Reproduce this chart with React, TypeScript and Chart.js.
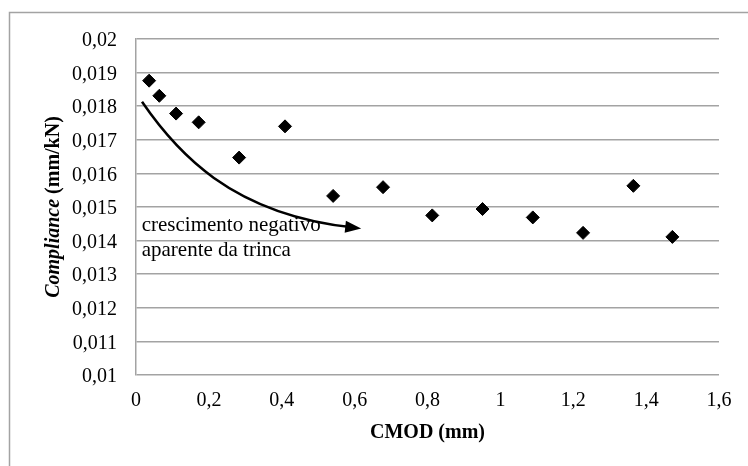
import { useEffect, useRef } from "react";
import { Chart, registerables } from "chart.js";

Chart.register(...registerables);

// ---- data ----
const cmod = [0.036, 0.064, 0.11, 0.172, 0.283, 0.409, 0.541, 0.678, 0.813, 0.951, 1.089, 1.227, 1.365, 1.472];
const compliance = [0.01876, 0.01831, 0.01778, 0.01752, 0.01647, 0.0174, 0.01533, 0.01559, 0.01475, 0.01494, 0.01469, 0.01423, 0.01563, 0.01411];

const xMin = 0;
const xMax = 1.6;
const xStep = 0.2;
const yMin = 0.01;
const yMax = 0.02;
const yStep = 0.001;

const xTitle = "CMOD (mm)";
const yTitleItalic = "Compliance";
const yTitleRest = " (mm/kN)";

// annotation (data coordinates)
const arrowPath = [
  [0.0165, 0.01813],
  [0.107, 0.0167],
  [0.258, 0.01477],
  [0.618, 0.01436],
];
const noteLines = ["crescimento negativo", "aparente da trinca"];
const noteX = 0.0156;
const noteY = [0.01444, 0.0137];

const FONT = '"Liberation Serif", "Times New Roman", serif';
const GRID = "#a3a3a3";

const fmt = (v: number) => String(parseFloat(Number(v).toFixed(3))).replace(".", ",");

const decor = {
  id: "decor",
  beforeDraw(chart: any) {
    const ctx = chart.ctx;
    ctx.save();
    ctx.fillStyle = "#ffffff";
    ctx.fillRect(0, 0, chart.width, chart.height);
    ctx.strokeStyle = GRID;
    ctx.lineWidth = 1.5;
    ctx.strokeRect(9.5, 12.5, 900, 600);
    ctx.restore();
  },
  afterDraw(chart: any) {
    const ctx = chart.ctx;
    const xs = chart.scales.x;
    const ys = chart.scales.y;
    const area = chart.chartArea;
    ctx.save();
    ctx.fillStyle = "#000";

    // x title
    ctx.font = `bold 20px ${FONT}`;
    ctx.textAlign = "center";
    ctx.textBaseline = "middle";
    ctx.fillText(xTitle, (area.left + area.right) / 2, 433);

    // y title (mixed italic / bold), rotated
    ctx.save();
    ctx.translate(54, (area.top + area.bottom) / 2);
    ctx.rotate(-Math.PI / 2);
    ctx.textAlign = "left";
    ctx.textBaseline = "middle";
    ctx.font = `italic bold 20px ${FONT}`;
    const w1 = ctx.measureText(yTitleItalic).width;
    ctx.font = `bold 20px ${FONT}`;
    const w2 = ctx.measureText(yTitleRest).width;
    const start = -(w1 + w2) / 2;
    ctx.font = `italic bold 20px ${FONT}`;
    ctx.fillText(yTitleItalic, start, 0);
    ctx.font = `bold 20px ${FONT}`;
    ctx.fillText(yTitleRest, start + w1, 0);
    ctx.restore();

    // arrow
    const p = arrowPath.map(([a, b]) => [xs.getPixelForValue(a), ys.getPixelForValue(b)]);
    ctx.strokeStyle = "#000";
    ctx.lineWidth = 2.5;
    ctx.beginPath();
    ctx.moveTo(p[0][0], p[0][1]);
    ctx.bezierCurveTo(p[1][0], p[1][1], p[2][0], p[2][1], p[3][0] - 7, p[3][1] - 1);
    ctx.stroke();
    const dx = p[3][0] - p[2][0];
    const dy = p[3][1] - p[2][1];
    const len = Math.hypot(dx, dy);
    const ux = dx / len;
    const uy = dy / len;
    const hl = 16;
    const hw = 6;
    const bx = p[3][0] - ux * hl;
    const by = p[3][1] - uy * hl;
    ctx.beginPath();
    ctx.moveTo(p[3][0], p[3][1]);
    ctx.lineTo(bx - uy * hw, by + ux * hw);
    ctx.lineTo(bx + uy * hw, by - ux * hw);
    ctx.closePath();
    ctx.fill();

    // annotation text
    ctx.font = `21px ${FONT}`;
    ctx.textAlign = "left";
    ctx.textBaseline = "middle";
    noteLines.forEach((t, i) => {
      ctx.fillText(t, xs.getPixelForValue(noteX), ys.getPixelForValue(noteY[i]));
    });
    ctx.restore();
  },
};

export default function App() {
  const ref = useRef<HTMLCanvasElement | null>(null);
  useEffect(() => {
    if (!ref.current) return;
    const chart = new Chart(ref.current, {
      type: "scatter",
      data: {
        datasets: [
          {
            label: "Compliance",
            data: cmod.map((x, i) => ({ x, y: compliance[i] })),
            pointStyle: "rectRot",
            pointRadius: 6.5,
            pointBackgroundColor: "#000",
            pointBorderColor: "#000",
            pointBorderWidth: 1,
          },
        ],
      },
      options: {
        animation: false,
        responsive: false,
        layout: { padding: { top: 39, right: 29, bottom: 0, left: 0 } },
        plugins: { legend: { display: false }, tooltip: { enabled: false } },
        scales: {
          x: {
            type: "linear",
            min: xMin,
            max: xMax,
            afterFit: (s: any) => {
              s.height = 91;
            },
            ticks: {
              stepSize: xStep,
              callback: (v: any) => fmt(v),
              color: "#000",
              font: { family: FONT, size: 20 },
              padding: 14,
              maxRotation: 0,
            },
            grid: { display: false, drawTicks: false },
            border: { display: false },
          },
          y: {
            type: "linear",
            min: yMin,
            max: yMax,
            afterFit: (s: any) => {
              s.width = 136;
            },
            ticks: {
              stepSize: yStep,
              callback: (v: any) => fmt(v),
              color: "#000",
              font: { family: FONT, size: 20 },
              padding: 19,
              labelOffset: 2,
            },
            grid: { color: GRID, lineWidth: 1.5, drawTicks: false },
            border: { display: true, color: GRID, width: 1.5 },
          },
        },
      },
      plugins: [decor],
    });
    return () => chart.destroy();
  }, []);
  return (
    <div style={{ position: "fixed", left: 0, top: 0, width: 748, height: 466 }}>
      <canvas ref={ref} width={748} height={466} />
    </div>
  );
}
